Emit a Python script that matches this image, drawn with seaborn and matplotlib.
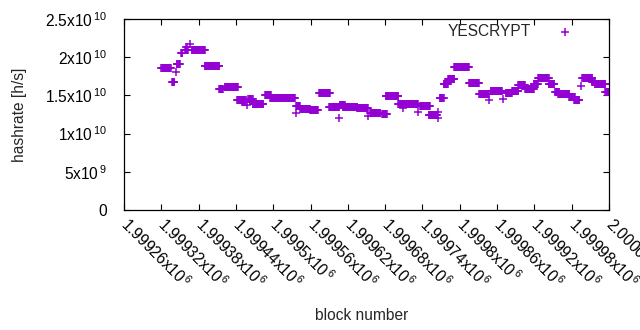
import numpy as np
import pandas as pd
import matplotlib
matplotlib.use('Agg')
import matplotlib.pyplot as plt
from matplotlib.ticker import FixedLocator, FuncFormatter
import seaborn as sns

# hashrate per block, stored as runs: first block, last block, value [h/s]
run_start = [1999320, 1999337, 1999344, 1999345, 1999352, 1999358, 1999360, 1999366,
             1999369, 1999390, 1999413, 1999422, 1999442, 1999450, 1999458, 1999460,
             1999467, 1999487, 1999495, 1999537, 1999537, 1999543, 1999559, 1999574,
             1999590, 1999606, 1999607, 1999612, 1999635, 1999652, 1999656, 1999675,
             1999681, 1999701, 1999709, 1999733, 1999736, 1999750, 1999765, 1999765,
             1999768, 1999774, 1999781, 1999791, 1999815, 1999831, 1999847, 1999850,
             1999869, 1999874, 1999884, 1999894, 1999905, 1999919, 1999926, 1999943,
             1999953, 1999958, 1999976, 1999984, 1999995, 1999997, 2000013, 2000017,
             2000034]
run_end = [1999335, 1999341, 1999344, 1999350, 1999354, 1999363, 1999361, 1999366,
           1999390, 1999413, 1999419, 1999443, 1999456, 1999454, 1999458, 1999467,
           1999484, 1999496, 1999535, 1999537, 1999543, 1999559, 1999572, 1999591,
           1999606, 1999606, 1999615, 1999635, 1999652, 1999652, 1999672, 1999683,
           1999701, 1999733, 1999709, 1999733, 1999752, 1999763, 1999765, 1999765,
           1999774, 1999781, 1999791, 1999815, 1999831, 1999847, 1999847, 1999868,
           1999869, 1999884, 1999894, 1999905, 1999919, 1999926, 1999943, 1999952,
           1999960, 1999976, 1999985, 1999992, 1999995, 2000013, 2000017, 2000034,
           2000042]
run_value = [1.855e10, 1.67e10, 1.80e10, 1.907e10, 2.05e10, 2.09e10, 2.13e10, 2.17e10,
             2.09e10, 1.88e10, 1.59e10, 1.615e10, 1.44e10, 1.42e10, 1.37e10, 1.45e10,
             1.39e10, 1.505e10, 1.46e10, 1.27e10, 1.36e10, 1.325e10, 1.31e10, 1.53e10,
             1.345e10, 1.20e10, 1.375e10, 1.35e10, 1.33e10, 1.23e10, 1.265e10, 1.256e10,
             1.488e10, 1.383e10, 1.335e10, 1.28e10, 1.366e10, 1.25e10, 1.28e10, 1.20e10,
             1.46e10, 1.645e10, 1.71e10, 1.867e10, 1.658e10, 1.514e10, 1.44e10, 1.555e10,
             1.45e10, 1.527e10, 1.553e10, 1.63e10, 1.58e10, 1.653e10, 1.724e10, 1.653e10,
             1.545e10, 1.518e10, 1.483e10, 1.44e10, 1.62e10, 1.724e10, 1.68e10, 1.645e10,
             1.55e10]

x_ticks = np.arange(1999260, 2000041, 60)
y_ticks = [0, 5e9, 1e10, 1.5e10, 2e10, 2.5e10]

blocks, rates = [], []
for s, e, v in zip(run_start, run_end, run_value):
    b = np.arange(s, e + 1)
    blocks.extend(b)
    rates.extend([v] * len(b))
df = pd.DataFrame({'block': blocks, 'hashrate': rates})

FS = 11.2
sns.set_style('ticks')
plt.rcParams['font.family'] = ['Liberation Sans', 'DejaVu Sans']
plt.rcParams['mathtext.default'] = 'regular'
plt.rcParams['font.size'] = FS

fig = plt.figure(figsize=(6.4, 3.3), dpi=100)
ax = fig.add_axes([124 / 640, 1 - 210 / 330, 485 / 640, 191 / 330])

sns.scatterplot(data=df, x='block', y='hashrate', marker='+', color='#9400d3',
                s=34, linewidth=1.1, label='YESCRYPT', ax=ax)

ax.set_xlim(1999260, 2000040)
ax.set_ylim(0, 2.5e10)


def sci(v, pos=None):
    if v == 0:
        return '0'
    exp = int(np.floor(np.log10(abs(v)) + 1e-9))
    m = v / 10 ** exp
    return '%gx10$^{\\,%d}$' % (round(m, 6), exp)


ax.xaxis.set_major_locator(FixedLocator(x_ticks))
ax.yaxis.set_major_locator(FixedLocator(y_ticks))
ax.xaxis.set_major_formatter(FuncFormatter(sci))
ax.yaxis.set_major_formatter(FuncFormatter(sci))
ax.tick_params(direction='in', length=4, width=0.8, top=True, right=True,
               colors='black', labelsize=FS)
ax.tick_params(axis='y', pad=12)
ax.tick_params(axis='x', pad=8)
for lab in ax.get_xticklabels():
    lab.set_rotation(-45)
    lab.set_ha('left')
    lab.set_va('center')
    lab.set_rotation_mode('anchor')

for sp in ax.spines.values():
    sp.set_linewidth(0.9)
    sp.set_color('black')

ax.set_xlabel('block number', fontsize=FS)
ax.set_ylabel('hashrate [h/s]', fontsize=FS)
ax.xaxis.set_label_coords(0.49, -0.515)
ax.yaxis.set_label_coords(-0.2, 0.5)

ax.legend(loc='upper right', markerfirst=False, frameon=False, handlelength=2.4,
          handletextpad=1.0, borderpad=0, borderaxespad=0,
          bbox_to_anchor=(584 / 640, 1 - 24 / 330), bbox_transform=fig.transFigure,
          fontsize=FS)

fig.savefig('out.png', dpi=100)
